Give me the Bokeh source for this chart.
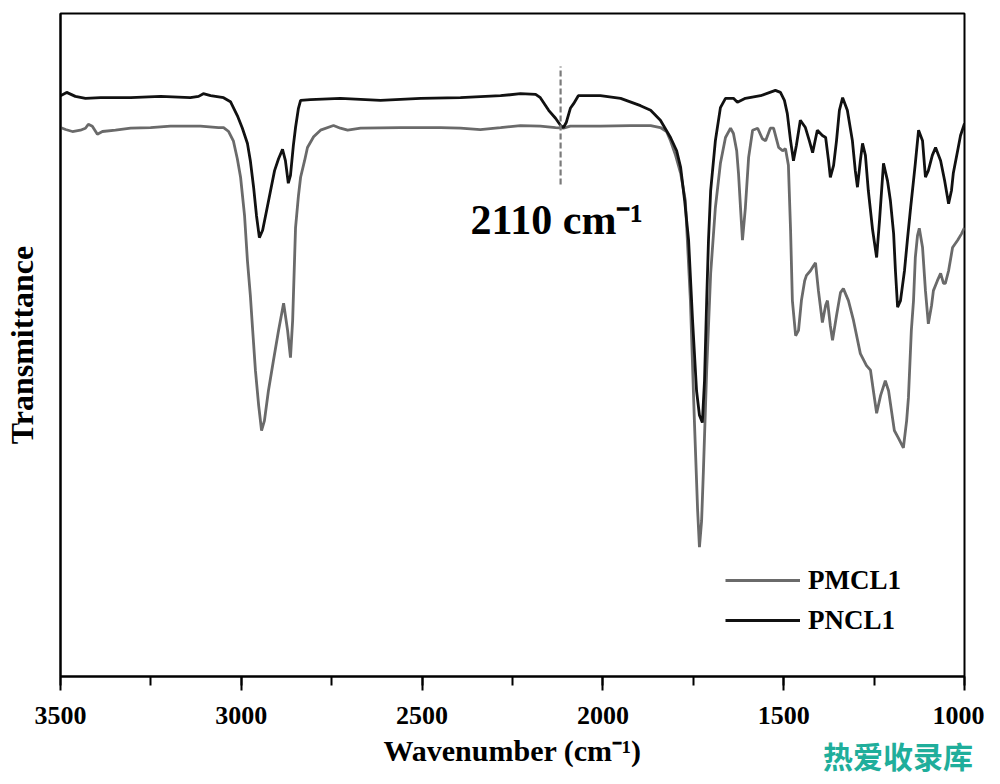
from bokeh.plotting import figure
from bokeh.models import (Range1d, SingleIntervalTicker, FixedTicker, Legend, LegendItem,
                          Label, LinearAxis)
from bokeh.embed import file_html
from bokeh.resources import INLINE

# ---------------- data ----------------
pncl1_wn = [3500, 3483, 3459, 3431, 3389, 3306, 3223, 3141, 3118, 3105, 3085, 3049, 3030, 3011,
            2997, 2983, 2975, 2966, 2958, 2950, 2941, 2930, 2919, 2908, 2897, 2886, 2878, 2870,
            2864, 2856, 2850, 2842, 2836, 2809, 2726, 2615, 2504, 2394, 2283, 2228, 2186, 2173,
            2150, 2131, 2117, 2109, 2101, 2090, 2081, 2068, 2007, 1951, 1896, 1868, 1841, 1813,
            1796, 1785, 1774, 1763, 1752, 1741, 1733, 1725, 1719, 1713, 1708, 1702, 1689, 1675,
            1661, 1639, 1628, 1606, 1564, 1523, 1509, 1498, 1490, 1481, 1473, 1465, 1454, 1440,
            1429, 1420, 1412, 1407, 1393, 1384, 1376, 1371, 1362, 1354, 1346, 1337, 1324, 1310,
            1302, 1296, 1288, 1282, 1274, 1266, 1254, 1243, 1235, 1224, 1213, 1205, 1196, 1191,
            1185, 1177, 1166, 1158, 1149, 1141, 1136, 1127, 1116, 1108, 1100, 1089, 1080, 1066,
            1055, 1044, 1036, 1031, 1019, 1011, 1000]
pncl1_t = [87.6, 88.1, 87.5, 87.2, 87.3, 87.3, 87.5, 87.3, 87.5, 87.9, 87.6, 87.3, 86.7, 84.6,
           82.7, 80.4, 77.8, 73.8, 69.5, 66.2, 67.3, 70.3, 73.3, 76.3, 78.1, 79.5, 77.8, 74.4,
           75.6, 80.1, 82.8, 85.7, 86.9, 87.0, 87.2, 86.9, 87.2, 87.3, 87.6, 87.9, 87.8, 87.3,
           85.4, 84.2, 83.1, 82.8, 83.6, 85.7, 86.4, 87.6, 87.6, 87.2, 86.1, 85.4, 83.9, 81.3,
           79.3, 76.8, 71.8, 65.8, 53.7, 43.1, 39.4, 38.3, 44.6, 56.7, 65.8, 73.3, 80.8, 85.8,
           87.2, 87.2, 86.6, 87.2, 87.6, 88.4, 88.1, 86.9, 84.9, 80.8, 77.8, 80.1, 83.9, 82.8,
           80.8, 79.0, 81.1, 82.4, 81.6, 81.3, 77.8, 75.3, 77.1, 80.8, 85.4, 87.3, 85.4, 80.8,
           76.3, 73.8, 77.8, 80.4, 78.6, 73.3, 67.3, 63.2, 68.8, 77.4, 74.8, 71.8, 66.8, 61.2,
           55.7, 56.7, 61.2, 65.8, 70.7, 74.8, 77.4, 82.4, 80.8, 75.3, 76.3, 78.6, 79.8, 77.8,
           74.8, 71.3, 73.3, 75.9, 79.3, 81.6, 83.4]

pmcl1_wn = [3500, 3486, 3467, 3445, 3431, 3423, 3412, 3398, 3384, 3348, 3306, 3251, 3196, 3113,
            3063, 3049, 3035, 3022, 3011, 3002, 2991, 2983, 2975, 2969, 2961, 2952, 2944, 2936,
            2925, 2911, 2897, 2883, 2872, 2864, 2858, 2850, 2842, 2836, 2825, 2817, 2800, 2781,
            2745, 2726, 2706, 2670, 2560, 2449, 2394, 2339, 2283, 2228, 2173, 2131, 2109, 2090,
            2007, 1924, 1868, 1841, 1824, 1813, 1799, 1785, 1772, 1758, 1747, 1738, 1733, 1727,
            1722, 1713, 1702, 1689, 1675, 1661, 1647, 1639, 1630, 1625, 1619, 1614, 1606, 1597,
            1586, 1572, 1559, 1550, 1537, 1528, 1514, 1503, 1495, 1487, 1481, 1476, 1467, 1459,
            1451, 1442, 1437, 1426, 1418, 1412, 1404, 1393, 1384, 1379, 1371, 1365, 1354, 1343,
            1335, 1321, 1307, 1288, 1271, 1260, 1252, 1243, 1232, 1219, 1210, 1202, 1194, 1183,
            1169, 1160, 1155, 1147, 1141, 1136, 1130, 1125, 1116, 1108, 1100, 1091, 1086, 1075,
            1066, 1058, 1053, 1044, 1033, 1019, 1008, 1000]
pmcl1_t = [82.8, 82.5, 82.2, 82.4, 82.7, 83.3, 83.0, 81.8, 82.2, 82.4, 82.7, 82.8, 83.0, 83.0,
           82.8, 82.8, 82.2, 80.8, 78.1, 75.3, 69.5, 62.7, 57.5, 52.6, 46.2, 40.9, 37.1, 38.6,
           43.1, 47.7, 52.2, 56.3, 52.2, 48.1, 53.7, 67.7, 72.5, 75.3, 77.8, 79.8, 81.4, 82.4,
           83.1, 82.7, 82.4, 82.7, 82.8, 82.8, 82.7, 82.5, 82.8, 83.1, 83.0, 82.8, 82.7, 83.0,
           83.0, 83.1, 83.1, 82.8, 82.2, 80.8, 78.6, 75.9, 71.8, 56.7, 38.6, 25.0, 19.5, 23.5,
           31.1, 46.2, 60.8, 70.7, 77.4, 81.3, 82.7, 81.9, 79.3, 75.9, 70.3, 65.8, 70.7, 78.3,
           82.4, 82.7, 81.1, 80.8, 82.7, 82.7, 79.8, 79.3, 79.6, 77.1, 67.3, 56.7, 51.4, 52.2,
           56.7, 59.7, 60.5, 61.2, 61.9, 62.4, 58.2, 53.4, 56.0, 56.7, 52.9, 50.7, 54.4, 57.9,
           58.5, 56.7, 53.7, 48.7, 46.9, 46.2, 43.1, 39.7, 42.4, 44.6, 43.1, 40.1, 37.1, 36.0,
           34.5, 38.6, 42.1, 52.2, 56.7, 63.2, 66.5, 67.6, 64.7, 58.2, 53.2, 56.0, 58.2, 59.7,
           60.8, 59.3, 59.3, 61.2, 64.7, 65.8, 66.8, 67.7]

series_names = ["PMCL1", "PNCL1"]
marker_wn = 2117
marker_t = [74.2, 92.0]
annotation_text = "2110 cm\u207b\u00b9"
annotation_pos = (2366, 68.9)
x_label = "Wavenumber (cm\u207b\u00b9)"
y_label = "Transmittance"
watermark = "热爱收录库"

SERIF = "Liberation Serif"

p = figure(width=984, height=784, output_backend="svg", toolbar_location=None,
           x_range=Range1d(3500, 1000), y_range=Range1d(0, 100),
           min_border_left=60, min_border_right=20, min_border_top=13, min_border_bottom=108)

p.background_fill_color = "white"
p.border_fill_color = "white"
p.xgrid.visible = False
p.ygrid.visible = False
p.outline_line_color = "black"
p.outline_line_width = 2

# x axis
xa = p.xaxis[0]
xa.ticker = SingleIntervalTicker(interval=500, num_minor_ticks=2)
xa.axis_line_color = "black"
xa.axis_line_width = 2
xa.major_tick_out = 14
xa.major_tick_in = 0
xa.minor_tick_out = 9
xa.minor_tick_in = 0
xa.major_tick_line_width = 2
xa.minor_tick_line_width = 2
xa.major_tick_line_color = "black"
xa.minor_tick_line_color = "black"
xa.major_label_text_font = SERIF
xa.major_label_text_font_style = "bold"
xa.major_label_text_font_size = "26px"
xa.major_label_text_color = "black"
xa.major_label_standoff = 16
xa.axis_label = x_label
xa.axis_label_text_font = SERIF
xa.axis_label_text_font_style = "bold"
xa.axis_label_text_font_size = "30px"
xa.axis_label_text_color = "black"
xa.axis_label_standoff = 7

# y axis
ya = p.yaxis[0]
ya.ticker = FixedTicker(ticks=[])
ya.axis_line_color = "black"
ya.axis_line_width = 2
ya.major_tick_out = 0
ya.major_tick_in = 0
ya.minor_tick_out = 0
ya.minor_tick_in = 0
ya.major_label_text_font_size = "0px"
ya.axis_label = y_label
ya.axis_label_text_font = SERIF
ya.axis_label_text_font_style = "bold"
ya.axis_label_text_font_size = "32px"
ya.axis_label_text_color = "black"
ya.axis_label_standoff = 21

# spectra
r_pm = p.line(pmcl1_wn, pmcl1_t, line_color="#6a6a6a", line_width=2.8)
r_pn = p.line(pncl1_wn, pncl1_t, line_color="#111111", line_width=2.8)

# dashed marker at 2110 cm-1
p.line([marker_wn, marker_wn], marker_t, line_color="#7a7a7a", line_width=2.2,
       line_dash="6 3")

p.add_layout(Label(x=annotation_pos[0], y=annotation_pos[1], text=annotation_text,
                   text_font=SERIF, text_font_style="bold", text_font_size="42px",
                   text_color="black", text_baseline="alphabetic", text_align="left"))

legend = Legend(items=[LegendItem(label=series_names[0], renderers=[r_pm]),
                       LegendItem(label=series_names[1], renderers=[r_pn])],
                location=(665, 39), padding=0, margin=0, spacing=6,
                label_height=34, glyph_height=34, glyph_width=75, label_standoff=8,
                label_text_font=SERIF, label_text_font_style="bold",
                label_text_font_size="27px", label_text_color="black",
                background_fill_alpha=0, border_line_alpha=0)
p.add_layout(legend)

# watermark, carried by an extra tick-less axis below the main one; its centred
# label is pushed toward the right corner with leading ideographic spaces
wm_text = "\u3000" * 25 + "\u2002\u2009" + watermark
wm_axis = LinearAxis(ticker=FixedTicker(ticks=[]), axis_line_color=None,
                     major_tick_line_color=None, minor_tick_line_color=None,
                     major_tick_out=0, major_tick_in=0, minor_tick_out=0, minor_tick_in=0,
                     major_label_text_font_size="0px", major_label_standoff=0,
                     axis_label=wm_text, axis_label_text_font="Noto Sans CJK SC",
                     axis_label_text_font_style="bold", axis_label_text_font_size="30px",
                     axis_label_text_color="#1fae9b", axis_label_standoff=-37)
p.add_layout(wm_axis, "below")

open("out.html", "w").write(file_html(p, INLINE))
